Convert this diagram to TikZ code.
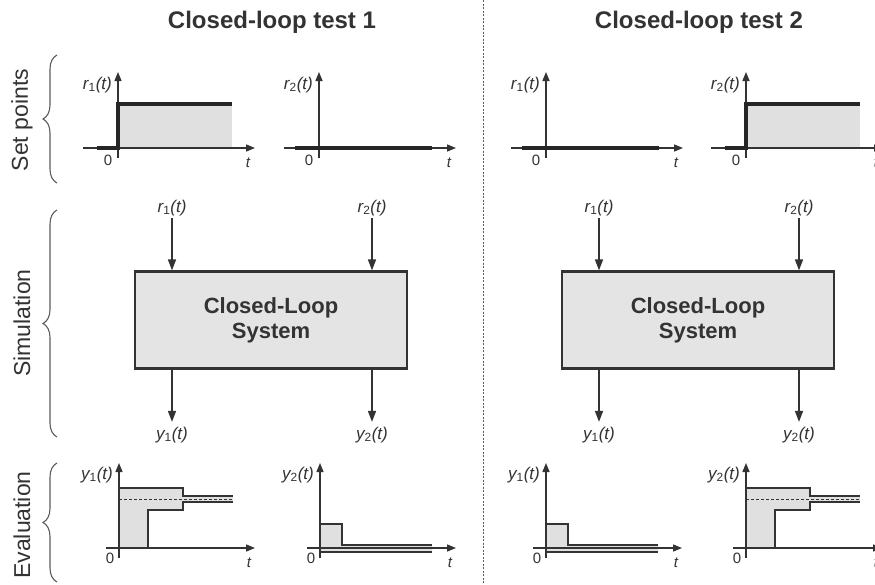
\documentclass[tikz,border=0pt]{standalone}
\usepackage{fontspec}
\setmainfont{Liberation Sans}
\usepackage{tikz}
\usetikzlibrary{arrows.meta}
\usetikzlibrary{decorations.pathreplacing}

\definecolor{ink}{HTML}{333333}
\definecolor{dark}{HTML}{262626}
\definecolor{plotgray}{HTML}{E0E0E0}
\definecolor{boxgray}{HTML}{E4E4E4}

\tikzset{
	% axes of one set point plot
	pics/spaxes/.style={code={
		\draw[axisline] (-35,0) -- (137,0);
		\draw[axisline] (0,10) -- (0,-76);
		\node[tick] (-zero) at (-10,12) {0};
		\node[tick,font=\fontsize{15}{17}\selectfont\itshape] (-t) at (130,15) {t};
		\node[sig,anchor=east] (-lbl) at (-5,-63) {#1};
	}},
	pics/stepset/.style={code={
		\fill[bandfill] (0,0) rectangle (114,-44);
		\pic {spaxes={#1}};
		\draw[stepline] (-21,0) -- (0,0) -- (0,-44) -- (114,-44);
	}},
	pics/zeroset/.style={code={
		\pic {spaxes={#1}};
		\draw[stepline] (-24,0) -- (113,0);
	}},
	% axes of one evaluation plot
	pics/evaxes/.style={code={
		\draw[axisline] (-13,0) -- (136,0);
		\draw[axisline] (0,10) -- (0,-85);
		\node[tick] (-zero) at (-9,10) {0};
		\node[tick,font=\fontsize{15}{17}\selectfont\itshape] (-t) at (130,15) {t};
		\node[sig,anchor=east] (-lbl) at (-5,-73) {#1};
	}},
	pics/bigband/.style={code={
		\fill[bandfill] (0,0) -- (0,-60) -- (64,-60) -- (64,-52) -- (114,-52) -- (114,-46)
			-- (64,-46) -- (64,-38) -- (29,-38) -- (29,0) -- cycle;
		\pic {evaxes={#1}};
		\draw[bound] (0,-60) -- (64,-60) -- (64,-52) -- (114,-52);
		\draw[bound] (29,0) -- (29,-38) -- (64,-38) -- (64,-46) -- (114,-46);
		\draw[bound,line width=0.9pt,dash pattern=on 3pt off 2pt] (0,-49) -- (114,-49);
	}},
	pics/smallband/.style={code={
		\fill[bandfill] (0,4) -- (0,-24) -- (22,-24) -- (22,-3) -- (112,-3) -- (112,4) -- cycle;
		\pic {evaxes={#1}};
		\draw[bound] (0,-24) -- (22,-24) -- (22,-3) -- (112,-3);
		\draw[bound] (0,4) -- (112,4);
	}}
}

\begin{document}
\begin{tikzpicture}[x=1pt,y=-1pt,line join=miter,
		>={Triangle[length=9pt,width=7pt]},
		axisline/.style={->,draw=ink,line width=1.4pt},
		stepline/.style={draw=dark,line width=4.2pt},
		bound/.style={draw=ink,line width=1.8pt},
		bandfill/.style={fill=plotgray},
		flow/.style={->,draw=ink,line width=1.5pt,>={Triangle[length=11pt,width=8pt]}},
		sysbox/.style={draw=ink,line width=2.2pt,fill=boxgray,minimum width=272pt,
			minimum height=97pt,align=center,text=ink,
			font=\fontsize{22}{25}\selectfont\bfseries},
		title/.style={font=\fontsize{24}{28}\selectfont\bfseries,text=ink},
		side/.style={rotate=90,font=\fontsize{23}{26}\selectfont,text=ink},
		sig/.style={font=\fontsize{17}{19}\selectfont\itshape,text=ink,inner sep=1pt},
		tick/.style={font=\fontsize{15}{17}\selectfont,text=ink,inner sep=1pt},
		sidebrace/.style={draw=ink!80,line width=1.1pt,decorate,decoration={brace,amplitude=14pt}},
		sep/.style={draw=ink!80,line width=0.9pt,dash pattern=on 2pt off 1.5pt}]
	\fill[white] (0,0) rectangle (875,584);
	\useasboundingbox (0,0) rectangle (875,584);

	% row labels
	\node[side] (setlbl) at (22,120) {Set points};
	\node[side] (simlbl) at (22,323) {Simulation};
	\node[side] (evallbl) at (22,525) {Evaluation};
	\coordinate (b1) at (57,183);
	\coordinate (t1) at (57,55);
	\coordinate (b2) at (57,437);
	\coordinate (t2) at (57,210);
	\coordinate (b3) at (57,582);
	\coordinate (t3) at (57,463);
	\foreach \i in {1,2,3}
		\draw[sidebrace] (b\i) -- (t\i);

	% separator
	\coordinate (septop) at (483,0);
	\coordinate (sepbot) at (483,584);
	\draw[sep] (septop) -- (sepbot);

	% both closed-loop tests
	\foreach \k/\dx in {1/0,2/427} {
		\node[title] (title\k) at (272+\dx,22) {Closed-loop test \k};
		\node[sysbox] (box\k) at (271+\dx,320) {Closed-Loop\\System};
		\node[sig] (rin1\k) at (172+\dx,208) {r\textsubscript{\upshape 1}(t)};
		\node[sig] (rin2\k) at (372+\dx,208) {r\textsubscript{\upshape 2}(t)};
		\node[sig] (yout1\k) at (172+\dx,435) {y\textsubscript{\upshape 1}(t)};
		\node[sig] (yout2\k) at (372+\dx,435) {y\textsubscript{\upshape 2}(t)};
		\draw[flow,shorten <=1pt] (rin1\k) -- (rin1\k |- box\k.north);
		\draw[flow,shorten <=1pt] (rin2\k) -- (rin2\k |- box\k.north);
		\draw[flow,shorten >=4pt] (box\k.south -| yout1\k) -- (yout1\k);
		\draw[flow,shorten >=4pt] (box\k.south -| yout2\k) -- (yout2\k);
	}

	% set points
	\pic (sp11) at (118,148) {stepset={r\textsubscript{\upshape 1}(t)}};
	\pic (sp21) at (319,148) {zeroset={r\textsubscript{\upshape 2}(t)}};
	\pic (sp12) at (546,148) {zeroset={r\textsubscript{\upshape 1}(t)}};
	\pic (sp22) at (746,148) {stepset={r\textsubscript{\upshape 2}(t)}};

	% evaluation
	\pic (ev11) at (119,548) {bigband={y\textsubscript{\upshape 1}(t)}};
	\pic (ev21) at (320,548) {smallband={y\textsubscript{\upshape 2}(t)}};
	\pic (ev12) at (546,548) {smallband={y\textsubscript{\upshape 1}(t)}};
	\pic (ev22) at (746,548) {bigband={y\textsubscript{\upshape 2}(t)}};
\end{tikzpicture}
\end{document}
